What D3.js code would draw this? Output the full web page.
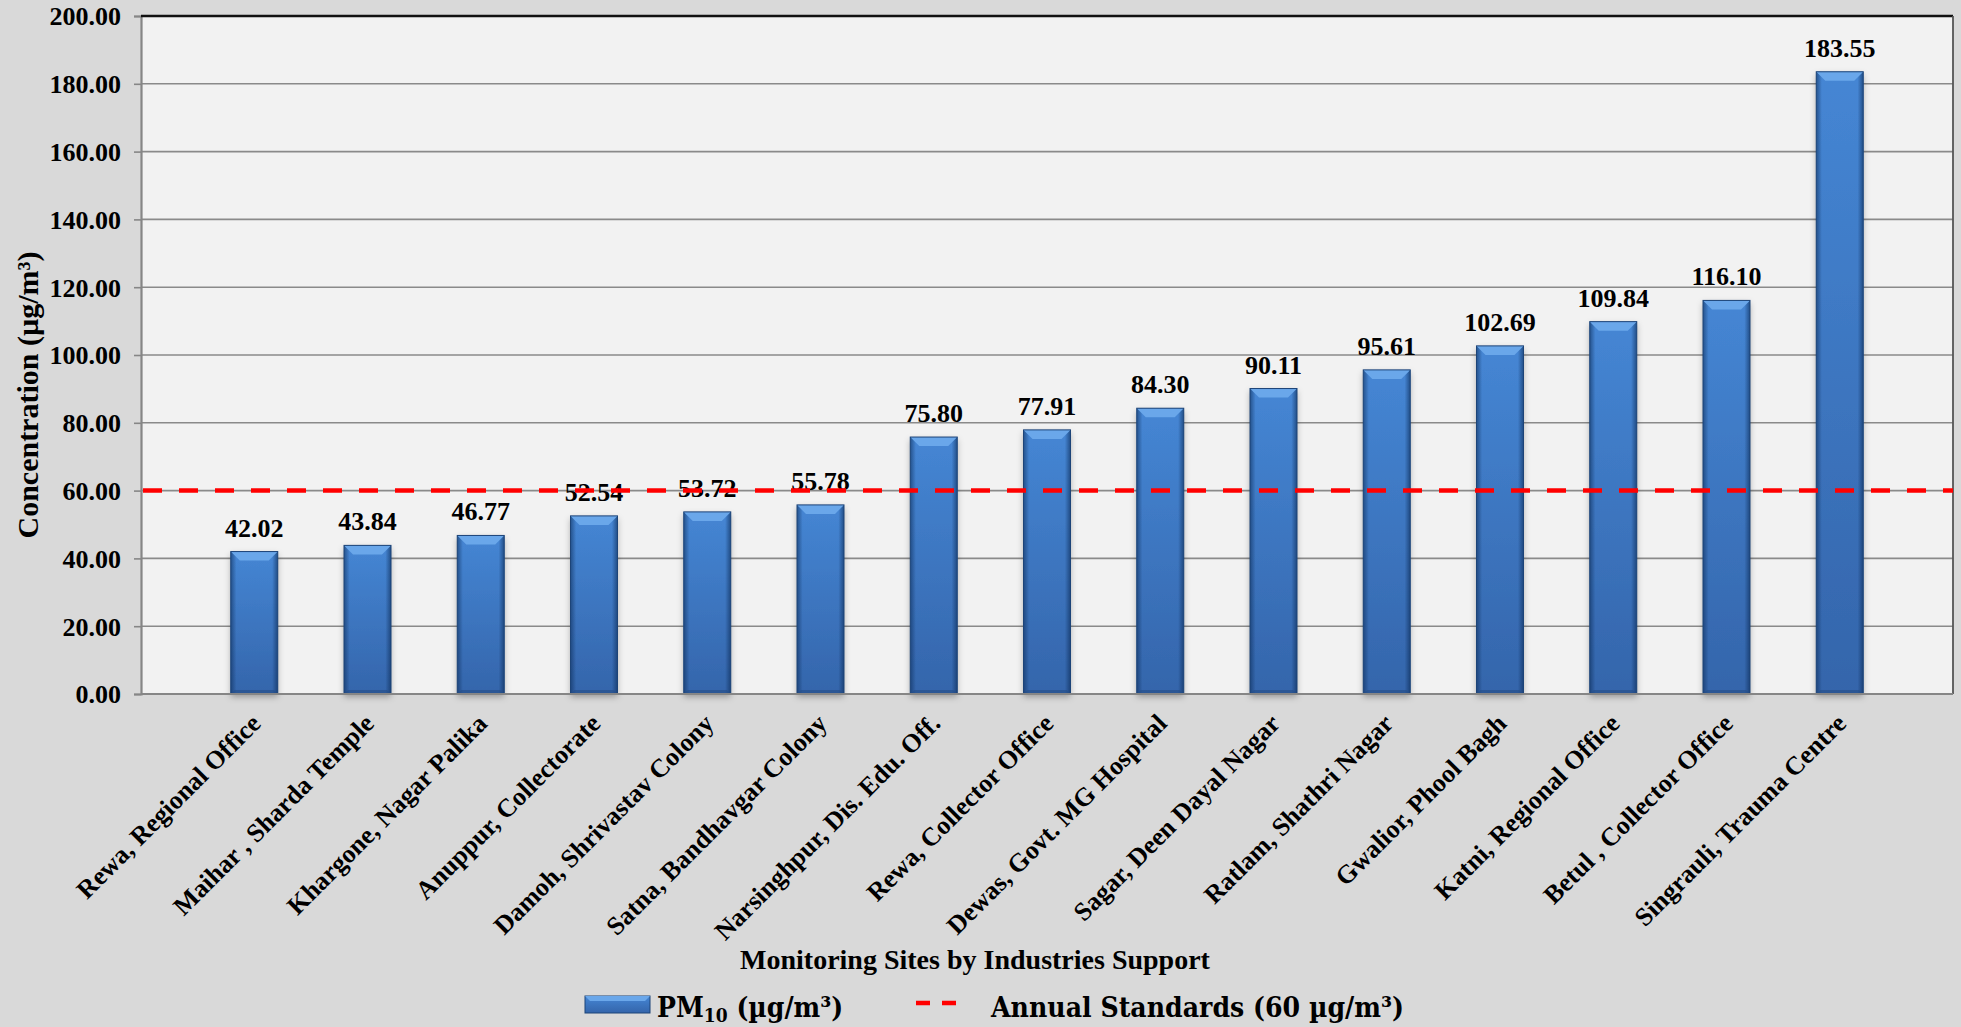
<!DOCTYPE html>
<html>
<head>
<meta charset="utf-8">
<script src="https://cdn.jsdelivr.net/npm/d3@7"></script>
<style>
  html, body { margin: 0; padding: 0; background: #d9d9d9; }
  svg { display: block; }
  text { font-family: "Liberation Serif", "Times New Roman", serif; font-weight: bold; fill: #000; }
  .legend text { font-family: "DejaVu Serif Condensed", "DejaVu Serif", serif; font-stretch: condensed; }
</style>
</head>
<body>
<script>
const categories = [
  "Rewa, Regional Office",
  "Maihar , Sharda Temple",
  "Khargone, Nagar Palika",
  "Anuppur, Collectorate",
  "Damoh, Shrivastav Colony",
  "Satna, Bandhavgar Colony",
  "Narsinghpur, Dis. Edu. Off.",
  "Rewa, Collector Office",
  "Dewas, Govt. MG Hospital",
  "Sagar, Deen Dayal Nagar",
  "Ratlam, Shathri Nagar",
  "Gwalior, Phool Bagh",
  "Katni, Regional Office",
  "Betul , Collector Office",
  "Singrauli, Trauma Centre"
];
const pm10Values = [42.02, 43.84, 46.77, 52.54, 53.72, 55.78, 75.80, 77.91, 84.30, 90.11, 95.61, 102.69, 109.84, 116.10, 183.55];
const annualStandard = 60;
const yTickValues = [0, 20, 40, 60, 80, 100, 120, 140, 160, 180, 200];
const yAxisTitle = "Concentration (µg/m³)";
const xAxisTitle = "Monitoring Sites by Industries Support";

const W = 1961, H = 1027;
const plot = { left: 141, right: 1953, top: 16, bottom: 694 };

const svg = d3.select("body").append("svg").attr("width", W).attr("height", H);
const defs = svg.append("defs");

const gV = defs.append("linearGradient").attr("id", "barV").attr("x1", 0).attr("y1", 0).attr("x2", 0).attr("y2", 1);
gV.append("stop").attr("offset", "0%").attr("stop-color", "#4586d4");
gV.append("stop").attr("offset", "100%").attr("stop-color", "#3465ab");
const gH = defs.append("linearGradient").attr("id", "barH").attr("x1", 0).attr("y1", 0).attr("x2", 1).attr("y2", 0);
gH.append("stop").attr("offset", "0%").attr("stop-color", "#0b2a55").attr("stop-opacity", 0.55);
gH.append("stop").attr("offset", "12%").attr("stop-color", "#0b2a55").attr("stop-opacity", 0.0);
gH.append("stop").attr("offset", "88%").attr("stop-color", "#0b2a55").attr("stop-opacity", 0.0);
gH.append("stop").attr("offset", "100%").attr("stop-color", "#0b2a55").attr("stop-opacity", 0.6);
const sh = defs.append("filter").attr("id", "shadow").attr("x", "-30%").attr("y", "-10%").attr("width", "160%").attr("height", "130%");
sh.append("feDropShadow").attr("dx", 0).attr("dy", 3).attr("stdDeviation", 3).attr("flood-color", "#000").attr("flood-opacity", 0.3);

// plot background
svg.append("rect")
  .attr("x", plot.left).attr("y", plot.top)
  .attr("width", plot.right - plot.left).attr("height", plot.bottom - plot.top)
  .attr("fill", "#f2f2f2");

const x = d3.scalePoint().domain(categories).range([plot.left, plot.right]).padding(1);
const y = d3.scaleLinear().domain([0, 200]).range([plot.bottom, plot.top]);
const barW = 47;

// gridlines
svg.append("g").selectAll("line").data(yTickValues.filter(v => v > 0 && v < 200)).join("line")
  .attr("x1", plot.left).attr("x2", plot.right)
  .attr("y1", d => y(d)).attr("y2", d => y(d))
  .attr("stroke", "#8a8a8a").attr("stroke-width", 1.6);

// y axis
const yAxis = svg.append("g").attr("transform", `translate(${plot.left},0)`)
  .call(d3.axisLeft(y).tickValues(yTickValues).tickFormat(d3.format(".2f")).tickSize(7).tickPadding(13));
yAxis.select(".domain").attr("stroke", "#868686").attr("stroke-width", 2.2);
yAxis.selectAll(".tick line").attr("stroke", "#868686").attr("stroke-width", 1.6);
yAxis.selectAll(".tick text").attr("font-size", 26).attr("font-family", "Liberation Serif").attr("font-weight", "bold").attr("fill", "#000").attr("dy", "0.34em");

// borders
svg.append("line").attr("x1", plot.left).attr("x2", plot.right).attr("y1", plot.top).attr("y2", plot.top)
  .attr("stroke", "#111").attr("stroke-width", 2.5);
svg.append("line").attr("x1", plot.right).attr("x2", plot.right).attr("y1", plot.top).attr("y2", plot.bottom)
  .attr("stroke", "#555").attr("stroke-width", 1.8);

// bars
const bars = svg.append("g").selectAll("g").data(categories.map((c, i) => ({ c, v: pm10Values[i] }))).join("g");
bars.append("rect")
  .attr("x", d => x(d.c) - barW / 2).attr("y", d => y(d.v))
  .attr("width", barW).attr("height", d => y(0) - y(d.v))
  .attr("fill", "url(#barV)").attr("filter", "url(#shadow)");
bars.append("rect")
  .attr("x", d => x(d.c) - barW / 2).attr("y", d => y(d.v))
  .attr("width", barW).attr("height", d => y(0) - y(d.v))
  .attr("fill", "url(#barH)");
const bev = 9;
bars.append("path")
  .attr("d", d => {
    const x0 = x(d.c) - barW / 2, x1 = x(d.c) + barW / 2, t = y(d.v);
    return `M${x0},${t}L${x1},${t}L${x1 - bev},${t + bev}L${x0 + bev},${t + bev}Z`;
  })
  .attr("fill", "#6aa7ea");
bars.append("path")
  .attr("d", d => {
    const x0 = x(d.c) - barW / 2, x1 = x(d.c) + barW / 2, b = y(0);
    return `M${x0},${b}L${x1},${b}L${x1 - 4},${b - 4}L${x0 + 4},${b - 4}Z`;
  })
  .attr("fill", "#244d85").attr("opacity", 0.6);
bars.append("rect")
  .attr("x", d => x(d.c) - barW / 2).attr("y", d => y(d.v))
  .attr("width", barW).attr("height", d => y(0) - y(d.v))
  .attr("fill", "none").attr("stroke", "#1d4478").attr("stroke-width", 1);

// value labels
bars.append("text")
  .attr("x", d => x(d.c)).attr("y", d => y(d.v) - 15)
  .attr("text-anchor", "middle").attr("font-size", 26)
  .text(d => d3.format(".2f")(d.v));

// bottom axis line
svg.append("line").attr("x1", plot.left).attr("x2", plot.right).attr("y1", plot.bottom).attr("y2", plot.bottom)
  .attr("stroke", "#868686").attr("stroke-width", 2.2);

// standard line
svg.append("line")
  .attr("x1", plot.left + 2).attr("x2", plot.right)
  .attr("y1", y(annualStandard)).attr("y2", y(annualStandard))
  .attr("stroke", "#ff0000").attr("stroke-width", 4.5)
  .attr("stroke-dasharray", "19,17");

// x labels
svg.append("g").selectAll("text").data(categories).join("text")
  .attr("transform", d => `translate(${x(d) + 8},${plot.bottom + 31}) rotate(-45)`)
  .attr("text-anchor", "end").attr("font-size", 26)
  .text(d => d);

// axis titles
svg.append("text")
  .attr("transform", `translate(38,395) rotate(-90)`)
  .attr("text-anchor", "middle").attr("font-size", 30)
  .text(yAxisTitle);
svg.append("text")
  .attr("x", 975).attr("y", 969)
  .attr("text-anchor", "middle").attr("font-size", 28)
  .text(xAxisTitle);

// legend
const lg = svg.append("g").attr("class", "legend");
lg.append("rect").attr("x", 585).attr("y", 996).attr("width", 65).attr("height", 17)
  .attr("fill", "url(#barV)").attr("stroke", "#1d4478").attr("stroke-width", 1);
lg.append("path").attr("d", "M585,996L650,996L645,1001L590,1001Z").attr("fill", "#6aa7ea");
const t1 = lg.append("text").attr("x", 657).attr("y", 1017).attr("font-size", 28);
t1.append("tspan").text("PM");
t1.append("tspan").attr("font-size", 19).attr("dy", 5).text("10");
t1.append("tspan").attr("dy", -5).text(" (µg/m³)");
lg.append("line").attr("x1", 916).attr("x2", 958).attr("y1", 1003).attr("y2", 1003)
  .attr("stroke", "#ff0000").attr("stroke-width", 4.5).attr("stroke-dasharray", "14,12");
lg.append("text").attr("x", 991).attr("y", 1017).attr("font-size", 28)
  .attr("textLength", 413).attr("lengthAdjust", "spacingAndGlyphs")
  .text("Annual Standards (60 µg/m³)");
</script>
</body>
</html>
